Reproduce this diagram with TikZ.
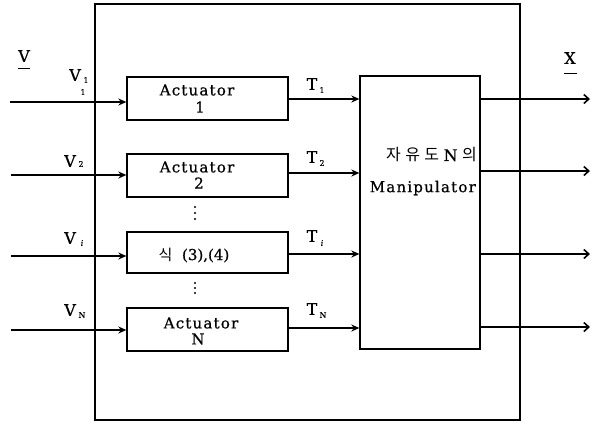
\documentclass[tikz,border=0pt]{standalone}
\usepackage{fontspec}
\setmainfont{DejaVu Serif}[FakeBold=0.6]
\newfontfamily\kr{Noto Sans CJK KR}
\newfontfamily\spaced{DejaVu Serif}[LetterSpace=8,FakeBold=0.6]
\usetikzlibrary{arrows.meta}
\begin{document}
\begin{tikzpicture}[x=1pt,y=-1pt,
  box/.style={draw,line width=1.3pt,inner sep=0pt},
  lbl/.style={inner sep=0pt,font=\fontsize{16}{17}\selectfont},
  sub/.style={inner sep=0pt,font=\fontsize{8}{9}\selectfont},
  btxt/.style={inner sep=0pt,font=\fontsize{15}{16}\spaced},
  dot/.style={circle,fill,inner sep=0pt,minimum size=2.2pt},
  inarr/.style={line width=1.3pt,-{Stealth[length=8pt,width=7pt]}},
  outarr/.style={line width=1.3pt,-{Straight Barb[length=5pt,width=9pt,line width=1.6pt]}}]
\useasboundingbox (0,0) rectangle (598,424);
% outer box
\draw[line width=1.4pt] (95,4) rectangle (520,420);
% actuator boxes
\node[box,minimum width=161pt,minimum height=43pt] (a1) at (207.5,98.5) {};
\node[box,minimum width=161pt,minimum height=43pt] (a2) at (207.5,175.5) {};
\node[box,minimum width=161pt,minimum height=41pt] (ai) at (207.5,252.5) {};
\node[box,minimum width=161pt,minimum height=43pt] (aN) at (207.5,329.5) {};
% manipulator
\node[box,minimum width=120pt,minimum height=273pt] (m) at (420,212.5) {};
% box texts
\node[btxt] (t1a) at (197,90) {Actuator};
\node[btxt] (t1b) at (200,107) {1};
\node[btxt] (t2a) at (197,167) {Actuator};
\node[btxt] (t2b) at (199,183) {2};
\node[inner sep=0pt,font=\fontsize{15}{16}\selectfont] (tia) at (194,255) {{\kr 식}\ \ (3),(4)};
\node[btxt] (tNa) at (201,323) {Actuator};
\node[btxt] (tNb) at (198,339) {N};
\node[inner sep=0pt,font=\fontsize{16}{17}\kr,anchor=east] (mk) at (477,155) {자\;유\;도\;{\rmfamily N}\;의};
\node[btxt,anchor=east] (me) at (476,188) {Manipulator};
% dots
\node[dot] (d1a) at (195,207) {};
\node[dot] (d1b) at (195,213) {};
\node[dot] (d1c) at (195,219) {};
\node[dot] (d2a) at (195,283) {};
\node[dot] (d2b) at (195,288) {};
\node[dot] (d2c) at (195,293) {};
% input coordinates
\coordinate (i1) at (10,102);
\coordinate (i2) at (11,175);
\coordinate (i3) at (11,256);
\coordinate (i4) at (11,330);
\draw[inarr] (i1) -- (i1 -| a1.west);
\draw[inarr] (i2) -- (i2 -| a2.west);
\draw[inarr] (i3) -- (i3 -| ai.west);
\draw[inarr] (i4) -- (i4 -| aN.west);
% T arrows
\draw[inarr] (a1.east |- 0,99) -- (m.west |- 0,99);
\draw[inarr] (a2.east |- 0,173) -- (m.west |- 0,173);
\draw[inarr] (ai.east |- 0,254) -- (m.west |- 0,254);
\draw[inarr] (aN.east |- 0,328) -- (m.west |- 0,328);
% outputs
\coordinate (o1) at (590,99);
\coordinate (o2) at (590,171);
\coordinate (o3) at (590,254);
\coordinate (o4) at (590,327);
\draw[outarr] (m.east |- o1) -- (o1);
\draw[outarr] (m.east |- o2) -- (o2);
\draw[outarr] (m.east |- o3) -- (o3);
\draw[outarr] (m.east |- o4) -- (o4);
% labels
\node[lbl] (V) at (24,56) {V};
\draw[line width=1pt] (18,68) -- (30,68);
\node[lbl] (X) at (570,58) {X};
\draw[line width=1pt] (564,73) -- (577,73);
\node[lbl] (v1) at (75,75) {V};
\node[sub] (v1s) at (86,80) {1};
\node[sub] (v1t) at (83,92) {1};
\node[lbl] (v2) at (70,161) {V};
\node[sub] (v2s) at (81,164) {2};
\node[lbl] (vi) at (70,238) {V};
\node[sub] (vis) at (82,243) {\itshape i};
\node[lbl] (vN) at (70,310) {V};
\node[sub] (vNs) at (82,315) {N};
\node[lbl] (T1) at (312,84) {T};
\node[sub] (T1s) at (322,90) {1};
\node[lbl] (T2) at (312,157) {T};
\node[sub] (T2s) at (322,163) {2};
\node[lbl] (Ti) at (312,236) {T};
\node[sub] (Tis) at (322,243) {\itshape i};
\node[lbl] (TN) at (312,309) {T};
\node[sub] (TNs) at (323,315) {N};
\end{tikzpicture}
\end{document}
